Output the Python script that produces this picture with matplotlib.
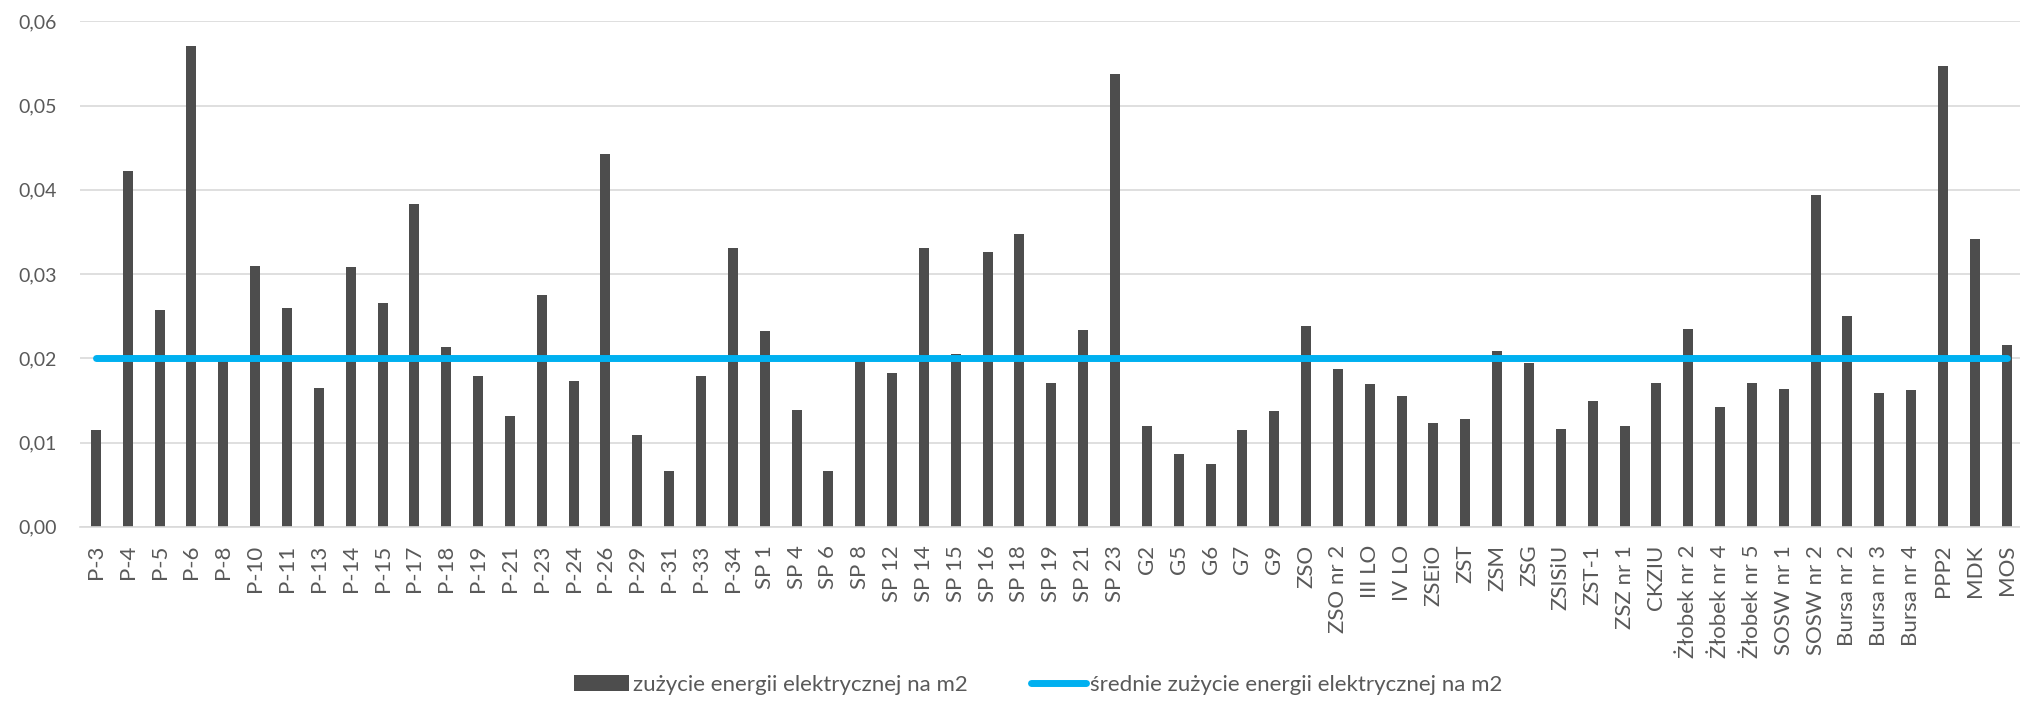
import matplotlib
matplotlib.use("Agg")
import matplotlib.pyplot as plt
from matplotlib.ticker import FixedLocator, FuncFormatter

categories = [
    "P-3", "P-4", "P-5", "P-6", "P-8", "P-10", "P-11", "P-13", "P-14", "P-15",
    "P-17", "P-18", "P-19", "P-21", "P-23", "P-24", "P-26", "P-29", "P-31", "P-33",
    "P-34", "SP 1", "SP 4", "SP 6", "SP 8", "SP 12", "SP 14", "SP 15", "SP 16", "SP 18",
    "SP 19", "SP 21", "SP 23", "G2", "G5", "G6", "G7", "G9", "ZSO", "ZSO nr 2",
    "III LO", "IV LO", "ZSEiO", "ZST", "ZSM", "ZSG", "ZSISiU", "ZST-1", "ZSZ nr 1", "CKZIU",
    "Żłobek nr 2", "Żłobek nr 4", "Żłobek nr 5", "SOSW nr 1", "SOSW nr 2",
    "Bursa nr 2", "Bursa nr 3", "Bursa nr 4", "PPP2", "MDK", "MOS",
]

zuzycie = [
    0.0115, 0.0422, 0.0257, 0.0571, 0.0197, 0.0310, 0.0260, 0.0165, 0.0309, 0.0266,
    0.0383, 0.0213, 0.0179, 0.0132, 0.0275, 0.0173, 0.0443, 0.0109, 0.0066, 0.0179,
    0.0331, 0.0233, 0.0139, 0.0066, 0.0198, 0.0183, 0.0331, 0.0205, 0.0326, 0.0348,
    0.0171, 0.0234, 0.0537, 0.0120, 0.0087, 0.0075, 0.0115, 0.0137, 0.0238, 0.0187,
    0.0169, 0.0155, 0.0123, 0.0128, 0.0209, 0.0194, 0.0116, 0.0149, 0.0120, 0.0171,
    0.0235, 0.0142, 0.0171, 0.0163, 0.0394, 0.0250, 0.0159, 0.0162, 0.0547, 0.0342,
    0.0216,
]

srednie = 0.02

y_ticks = [0.00, 0.01, 0.02, 0.03, 0.04, 0.05, 0.06]

label_bar = "zużycie energii elektrycznej na m2"
label_line = "średnie zużycie energii elektrycznej na m2"

FONT = ["Lato", "DejaVu Sans"]
plt.rcParams["font.family"] = FONT
TXT = "#595959"

fig = plt.figure(figsize=(20.2, 7.04), dpi=100)
ax = fig.add_axes([80 / 2020, 1 - 526.8 / 704, 1942.6 / 2020, (526.8 - 21.4) / 704])

x = list(range(len(categories)))
bars = ax.bar(x, zuzycie, width=0.314, color="#4D4D4D", zorder=2, label=label_bar)
line, = ax.plot([x[0], x[-1]], [srednie, srednie], color="#00B0F0", linewidth=5,
                solid_capstyle="round", zorder=3, label=label_line)

ax.set_xlim(-0.5, len(categories) - 0.5)
ax.set_ylim(0, 0.06)
ax.yaxis.set_major_locator(FixedLocator(y_ticks))
ax.yaxis.set_major_formatter(FuncFormatter(lambda v, p: f"{v:.2f}".replace(".", ",")))
ax.grid(axis="y", color="#D9D9D9", linewidth=1.2, zorder=0)
ax.set_axisbelow(True)

for s in ["top", "right", "left"]:
    ax.spines[s].set_visible(False)
ax.spines["bottom"].set_color("#D9D9D9")
ax.spines["bottom"].set_linewidth(1.2)

ax.set_xticks(x)
ax.set_xticklabels(categories, rotation=90, fontsize=16, color=TXT)
ax.tick_params(axis="x", length=0, pad=13)
ax.tick_params(axis="y", length=0, pad=16.5, labelsize=14, labelcolor=TXT)

leg = fig.legend([bars, line], [label_bar, label_line],
                 loc="center", bbox_to_anchor=(1038 / 2020, 1 - 685 / 704),
                 ncol=2, frameon=False, fontsize=16, handlelength=2.47,
                 handletextpad=0.18, columnspacing=2.84)
for t in leg.get_texts():
    t.set_color(TXT)

fig.savefig("out.png", dpi=100)
